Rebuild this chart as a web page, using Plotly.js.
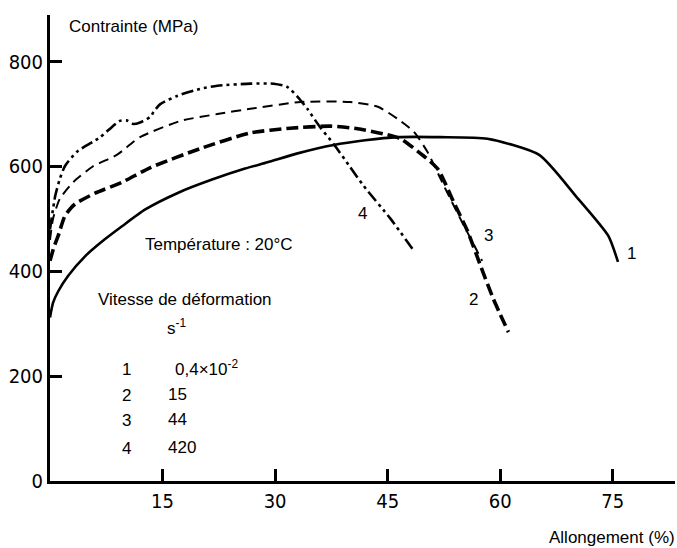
<!DOCTYPE html>
<html>
<head>
<meta charset="utf-8">
<script src="https://cdn.plot.ly/plotly-3.0.1.min.js"></script>
<style>
  html, body { margin: 0; padding: 0; background: #fff; }
  #chart { width: 677px; height: 548px; }
</style>
</head>
<body>
<div id="chart"></div>
<script>
// ---- Data ----
// Allongement (%) vs Contrainte (MPa)
const c1x = [0, 0.4, 1.1, 2.4, 4.7, 7.3, 9.6, 12.7, 17.1, 21.6, 26, 29, 33, 37.8, 42, 46.3, 52, 58.3, 65.2, 70, 74.4, 75.7];
const c1y = [312, 340, 362, 391, 429, 461, 486, 518, 550, 575, 596, 608, 625, 641, 650, 656, 656, 653, 622, 545, 468, 418];

const c2x = [0, 0.5, 1.1, 2, 3.3, 6, 9.6, 13.4, 20, 26.7, 32, 37.4, 41, 44.5, 46.7, 49.8, 51.7, 53.8, 55.7, 57.4, 59.1, 61.1];
const c2y = [420, 445, 468, 506, 528, 549, 570, 598, 634, 664, 673, 677, 672, 662, 653, 620, 595, 532, 475, 410, 347, 284];

const c3x = [0, 0.4, 1.3, 3.1, 5.7, 8.9, 12, 17.4, 22.3, 26.7, 33.4, 40, 43.7, 46.3, 48.5, 50.3, 52.5, 54.7, 56.3, 57.6];
const c3y = [460, 500, 538, 570, 600, 622, 656, 687, 700, 710, 723, 723, 714, 691, 666, 628, 563, 500, 456, 420];

const c4x = [0, 0.7, 1.3, 2, 3.6, 6.7, 9.3, 10.2, 11.1, 12, 13.4, 13.8, 14.7, 17, 20, 22.3, 26.7, 29.8, 31.6, 33, 34.3, 36, 37.8, 40, 41.8, 45.4, 48.3];
const c4y = [480, 544, 576, 601, 628, 656, 687, 688, 681, 684, 695, 704, 719, 735, 748, 754, 758, 758, 752, 733, 710, 675, 643, 599, 563, 500, 443];

const xTicks = [15, 30, 45, 60, 75];
const yTicks = [0, 200, 400, 600, 800];

const curveLabels = ["1", "2", "3", "4"];
const rates = ["0,4×10<sup>-2</sup>", "15", "44", "420"];

// ---- Layout helpers ----
const W = 677, H = 548;
const M = {l: 50, r: 2, t: 15, b: 67};
const PW = W - M.l - M.r, PH = H - M.t - M.b;
function px(x) { return (x - M.l) / PW; }
function py(y) { return (H - M.b - y) / PH; }
const FONT = "Liberation Sans, Arial, sans-serif";
const NARROW = "Liberation Sans Narrow, Arial Narrow, DejaVu Sans Condensed, sans-serif";
function txt(text, x, y, xanchor, size) {
  return {text: text, xref: 'paper', yref: 'paper', x: px(x), y: py(y),
          xanchor: xanchor || 'left', yanchor: 'middle', showarrow: false,
          font: {family: FONT, size: size || 17, color: '#000'}};
}

const SH = {shape: 'spline', smoothing: 0.6};
const traces = [
  {x: c1x, y: c1y, mode: 'lines', line: Object.assign({color: '#000', width: 2.6}, SH)},
  {x: c2x, y: c2y, mode: 'lines', line: Object.assign({color: '#000', width: 3.6, dash: '12px,5px'}, SH)},
  {x: c3x, y: c3y, mode: 'lines', line: Object.assign({color: '#000', width: 2, dash: '10px,6px'}, SH)},
  {x: c4x, y: c4y, mode: 'lines', line: Object.assign({color: '#000', width: 2.6, dash: '12px,4px,3px,4px,3px,4px'}, SH)}
];

const annotations = [
  txt('Contrainte (MPa)', 67, 27),
  txt('Allongement (%)', 677, 537, 'right'),
  txt('Température : 20°C', 143, 244),
  txt('Vitesse de déformation', 96, 299),
  txt('s<sup>-1</sup>', 165, 327),
  // curve labels on the chart
  txt(curveLabels[3], 362, 213, 'center'),
  txt(curveLabels[2], 488, 235, 'center'),
  txt(curveLabels[0], 631, 253, 'center'),
  txt(curveLabels[1], 473, 299, 'center')
];
const tableY = [368, 394, 419, 447];
const tableX = [173, 166, 166, 166];
for (let i = 0; i < 4; i++) {
  annotations.push(txt(curveLabels[i], 126, tableY[i] + 1, 'center'));
  annotations.push(txt(rates[i], tableX[i], tableY[i]));
}

const layout = {
  width: W, height: H,
  margin: M,
  paper_bgcolor: '#fff', plot_bgcolor: '#fff',
  showlegend: false,
  font: {family: FONT, size: 17, color: '#000'},
  xaxis: {
    range: [0, 83.3], showgrid: false, zeroline: false,
    showline: true, linewidth: 3, linecolor: '#000',
    ticks: 'inside', ticklen: 12, tickwidth: 3, tickcolor: '#000',
    tickvals: xTicks, ticktext: xTicks.map(String),
    tickfont: {family: NARROW, size: 20, color: '#000'}
  },
  yaxis: {
    range: [0, 889], showgrid: false, zeroline: false,
    showline: true, linewidth: 3, linecolor: '#000',
    ticks: 'inside', ticklen: 12, tickwidth: 3, tickcolor: '#000',
    tickvals: yTicks, ticktext: yTicks.map(String),
    tickfont: {family: NARROW, size: 20, color: '#000'}
  },
  annotations: annotations
};

Plotly.newPlot('chart', traces, layout, {staticPlot: true, displayModeBar: false});
</script>
</body>
</html>
